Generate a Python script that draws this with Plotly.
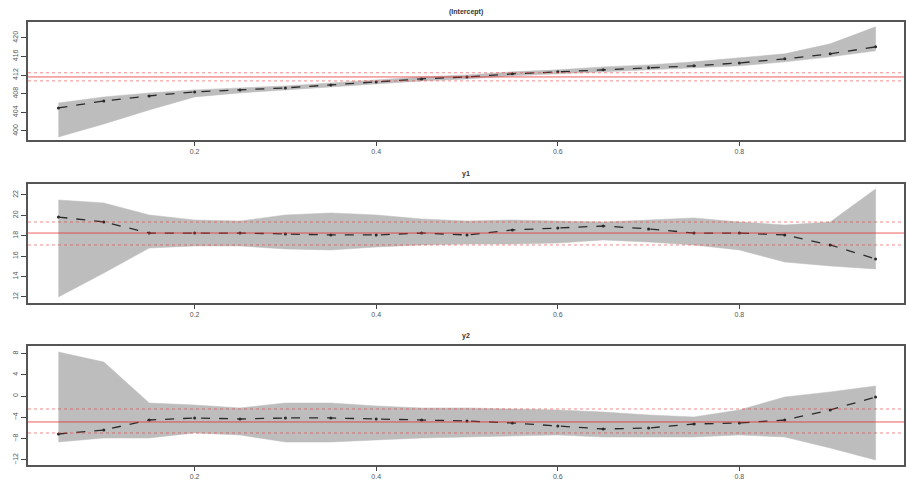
import plotly.graph_objects as go

# ---------------- data ----------------
taus = [0.05, 0.10, 0.15, 0.20, 0.25, 0.30, 0.35, 0.40, 0.45, 0.50,
        0.55, 0.60, 0.65, 0.70, 0.75, 0.80, 0.85, 0.90, 0.95]

titles = ["(Intercept)", "y1", "y2"]

int_coef = [404.95, 406.45, 407.53, 408.39, 408.82, 409.25, 409.89, 410.54, 411.18, 411.61,
            412.26, 412.69, 413.12, 413.55, 413.98, 414.62, 415.48, 416.56, 418.06]
int_upper = [406.02, 407.31, 408.17, 408.82, 409.25, 409.68, 410.32, 410.97, 411.61, 412.04,
             412.69, 413.12, 413.76, 414.19, 414.84, 415.70, 416.56, 418.71, 422.36]
int_lower = [398.71, 401.51, 404.52, 407.31, 408.17, 408.82, 409.46, 410.11, 410.75, 411.18,
             411.83, 412.26, 412.69, 413.12, 413.55, 413.98, 414.84, 415.91, 417.20]
int_ols = [411.6, 410.75, 412.5]   # estimate, lower, upper

y1_coef = [19.84, 19.35, 18.27, 18.27, 18.27, 18.18, 18.08, 18.08, 18.27, 18.08,
           18.57, 18.76, 18.96, 18.67, 18.27, 18.27, 18.08, 17.10, 15.73]
y1_upper = [21.51, 21.22, 20.04, 19.55, 19.45, 20.04, 20.24, 20.04, 19.65, 19.45,
            19.55, 19.45, 19.35, 19.55, 19.75, 19.35, 19.06, 19.35, 22.59]
y1_lower = [12.00, 14.35, 16.80, 17.00, 17.00, 16.71, 16.61, 16.90, 17.10, 17.20,
            17.20, 17.29, 17.59, 17.39, 17.10, 16.61, 15.43, 15.04, 14.75]
y1_ols = [18.27, 17.10, 19.35]

y2_coef = [-7.12, -6.37, -4.49, -4.11, -4.30, -4.11, -4.11, -4.30, -4.49, -4.68,
           -5.05, -5.61, -6.18, -5.99, -5.24, -5.05, -4.49, -2.61, -0.17]
y2_upper = [8.28, 6.40, -1.30, -1.67, -2.23, -1.30, -1.30, -1.86, -2.23, -2.23,
            -2.42, -2.61, -2.99, -3.55, -3.92, -2.61, -0.17, 0.78, 1.90]
y2_lower = [-8.62, -7.87, -7.87, -6.93, -7.31, -8.62, -8.62, -8.24, -7.87, -7.68,
            -7.49, -7.31, -7.68, -7.68, -7.68, -7.31, -7.68, -9.75, -12.00]
y2_ols = [-4.86, -6.93, -2.42]

x_ticks = [0.2, 0.4, 0.6, 0.8]
x_tick_labels = ["0.2", "0.4", "0.6", "0.8"]
y_ticks = [
    [400, 404, 408, 412, 416, 420],
    [12, 14, 16, 18, 20, 22],
    [-12, -8, -4, 0, 4, 8],
]
y_ranges = [[398.06, 423.4], [11.41, 23.08], [-12.94, 9.41]]
x_range = [0.0165, 0.9813]

panels = [
    (int_coef, int_upper, int_lower, int_ols),
    (y1_coef, y1_upper, y1_lower, y1_ols),
    (y2_coef, y2_upper, y2_lower, y2_ols),
]

# ---------------- layout ----------------
W, H = 906, 481
domains = [[0.7089, 0.9543], [0.3701, 0.6175], [0.0333, 0.2807]]

fig = go.Figure()
layout = dict(
    width=W, height=H,
    margin=dict(l=28, r=0, t=0, b=0),
    paper_bgcolor="white", plot_bgcolor="white",
    showlegend=False,
    font=dict(family="Liberation Sans, Arial, sans-serif", size=7, color="#444"),
)
shapes = []
annotations = []

for i, (coef, up, lo, ols) in enumerate(panels):
    xa = "x" if i == 0 else f"x{i+1}"
    ya = "y" if i == 0 else f"y{i+1}"
    # band
    fig.add_trace(go.Scatter(
        x=taus + taus[::-1], y=up + lo[::-1],
        fill="toself", fillcolor="#bdbdbd",
        line=dict(color="#bdbdbd", width=0.5),
        mode="lines", xaxis=xa, yaxis=ya, hoverinfo="skip"))
    # coefficient line
    fig.add_trace(go.Scatter(
        x=taus, y=coef, mode="lines+markers",
        line=dict(color="#2a2a2a", width=1.3, dash="dash"),
        marker=dict(color="#2a2a2a", size=3),
        xaxis=xa, yaxis=ya))
    # OLS lines
    for j, v in enumerate(ols):
        shapes.append(dict(
            type="line", xref=f"{xa} domain", yref=ya,
            x0=0, x1=1, y0=v, y1=v, layer="above",
            line=dict(color="rgba(230,40,40,0.75)" if j == 0 else "rgba(230,60,60,0.6)",
                      width=1, dash="solid" if j == 0 else "dot")))
    key = "xaxis" if i == 0 else f"xaxis{i+1}"
    ykey = "yaxis" if i == 0 else f"yaxis{i+1}"
    layout[key] = dict(
        domain=[0, 1], anchor=ya, range=x_range,
        tickvals=x_ticks, ticktext=x_tick_labels,
        ticks="outside", ticklen=4, tickcolor="#444",
        showgrid=False, zeroline=False,
        showline=True, mirror=True, linecolor="#555", linewidth=1.5,
        tickfont=dict(size=7, color="#555"))
    layout[ykey] = dict(
        domain=domains[i], anchor=xa, range=y_ranges[i],
        tickvals=y_ticks[i], tickangle=-90,
        ticks="outside", ticklen=5, tickcolor="#444",
        showgrid=False, zeroline=False,
        showline=True, mirror=True, linecolor="#555", linewidth=1.5,
        tickfont=dict(size=7, color="#555"))
    annotations.append(dict(
        text=f"<b>{titles[i]}</b>", xref="paper", yref="paper",
        x=0.5, y=domains[i][1], yshift=10, showarrow=False,
        xanchor="center", yanchor="middle",
        font=dict(size=7, color="#333")))

layout["shapes"] = shapes
layout["annotations"] = annotations
fig.update_layout(**layout)

fig.write_html("out.html",
               config={"displayModeBar": False},
               post_script="document.body.style.margin='0';document.body.style.overflow='hidden';")
